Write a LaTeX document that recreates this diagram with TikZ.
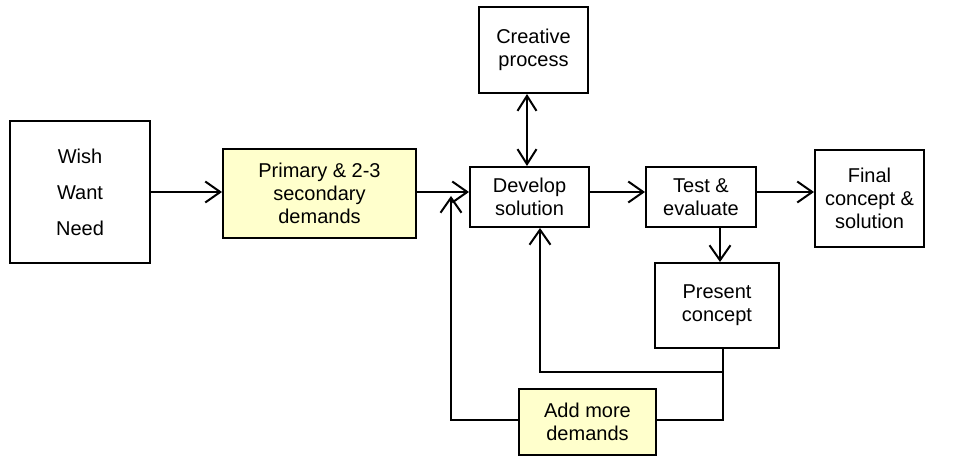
\documentclass[tikz,border=0pt]{standalone}
\usepackage{fontspec}
\setmainfont{Liberation Sans}
\usetikzlibrary{arrows.meta}
\definecolor{boxyellow}{HTML}{FFFFCC}
\begin{document}
\begin{tikzpicture}[x=1pt,y=-1pt,
  box/.style={draw=black,line width=2pt,fill=white,align=center,inner sep=0pt,
    font=\fontsize{20}{22.7}\selectfont},
  ybox/.style={box,fill=boxyellow},
  conn/.style={line width=2pt},
  arr/.style={conn,-{Straight Barb[length=15pt,width=21pt,line width=2pt]}},
  darr/.style={conn,{Straight Barb[length=15pt,width=19pt,line width=2pt]}-{Straight Barb[length=15pt,width=19pt,line width=2pt]}}]
\useasboundingbox[fill=white] (0,0) rectangle (964,457);
\node[box,minimum width=140pt,minimum height=142pt,font=\fontsize{20}{36}\selectfont] (wish) at (80,192) {Wish\\Want\\Need};
\node[ybox,minimum width=193pt,minimum height=89pt] (primary) at (319.5,193.5) {Primary \& 2-3\\secondary\\demands};
\node[box,minimum width=109pt,minimum height=86pt] (creative) at (533.5,50) {Creative\\process};
\node[box,minimum width=119pt,minimum height=60pt] (develop) at (529.5,197) {Develop\\solution};
\node[box,minimum width=110pt,minimum height=60pt] (test) at (701,197) {Test \&\\evaluate};
\node[box,minimum width=109pt,minimum height=97pt] (final) at (869.5,198.5) {Final\\concept \&\\solution};
\node[box,minimum width=124pt,minimum height=85pt] (present) at (717,305.5) {Present\\concept};
\node[ybox,minimum width=137pt,minimum height=66pt] (add) at (587.5,422) {Add more\\demands};
\coordinate (row) at (0,192);
\coordinate (cx) at (527,0);
\coordinate (tx) at (720,0);
\coordinate (dx) at (540,0);
\coordinate (lx) at (451,196);
\coordinate (j1) at (723,372);
\coordinate (j2) at (723,420);
\draw[arr] (wish.east |- row) -- (primary.west |- row);
\draw[arr] (primary.east |- row) -- (develop.west |- row);
\draw[arr] (develop.east |- row) -- (test.west |- row);
\draw[arr] (test.east |- row) -- (final.west |- row);
\draw[darr] (cx |- creative.south) -- (cx |- develop.north);
\draw[arr] (tx |- test.south) -- (tx |- present.north);
\draw[arr] (j1 |- present.south) -- (j1) -| (dx |- develop.south);
\draw[conn] (j1) -- (j2) -- (add.east |- j2);
\draw[arr] (add.west |- j2) -| (lx);
\end{tikzpicture}
\end{document}
